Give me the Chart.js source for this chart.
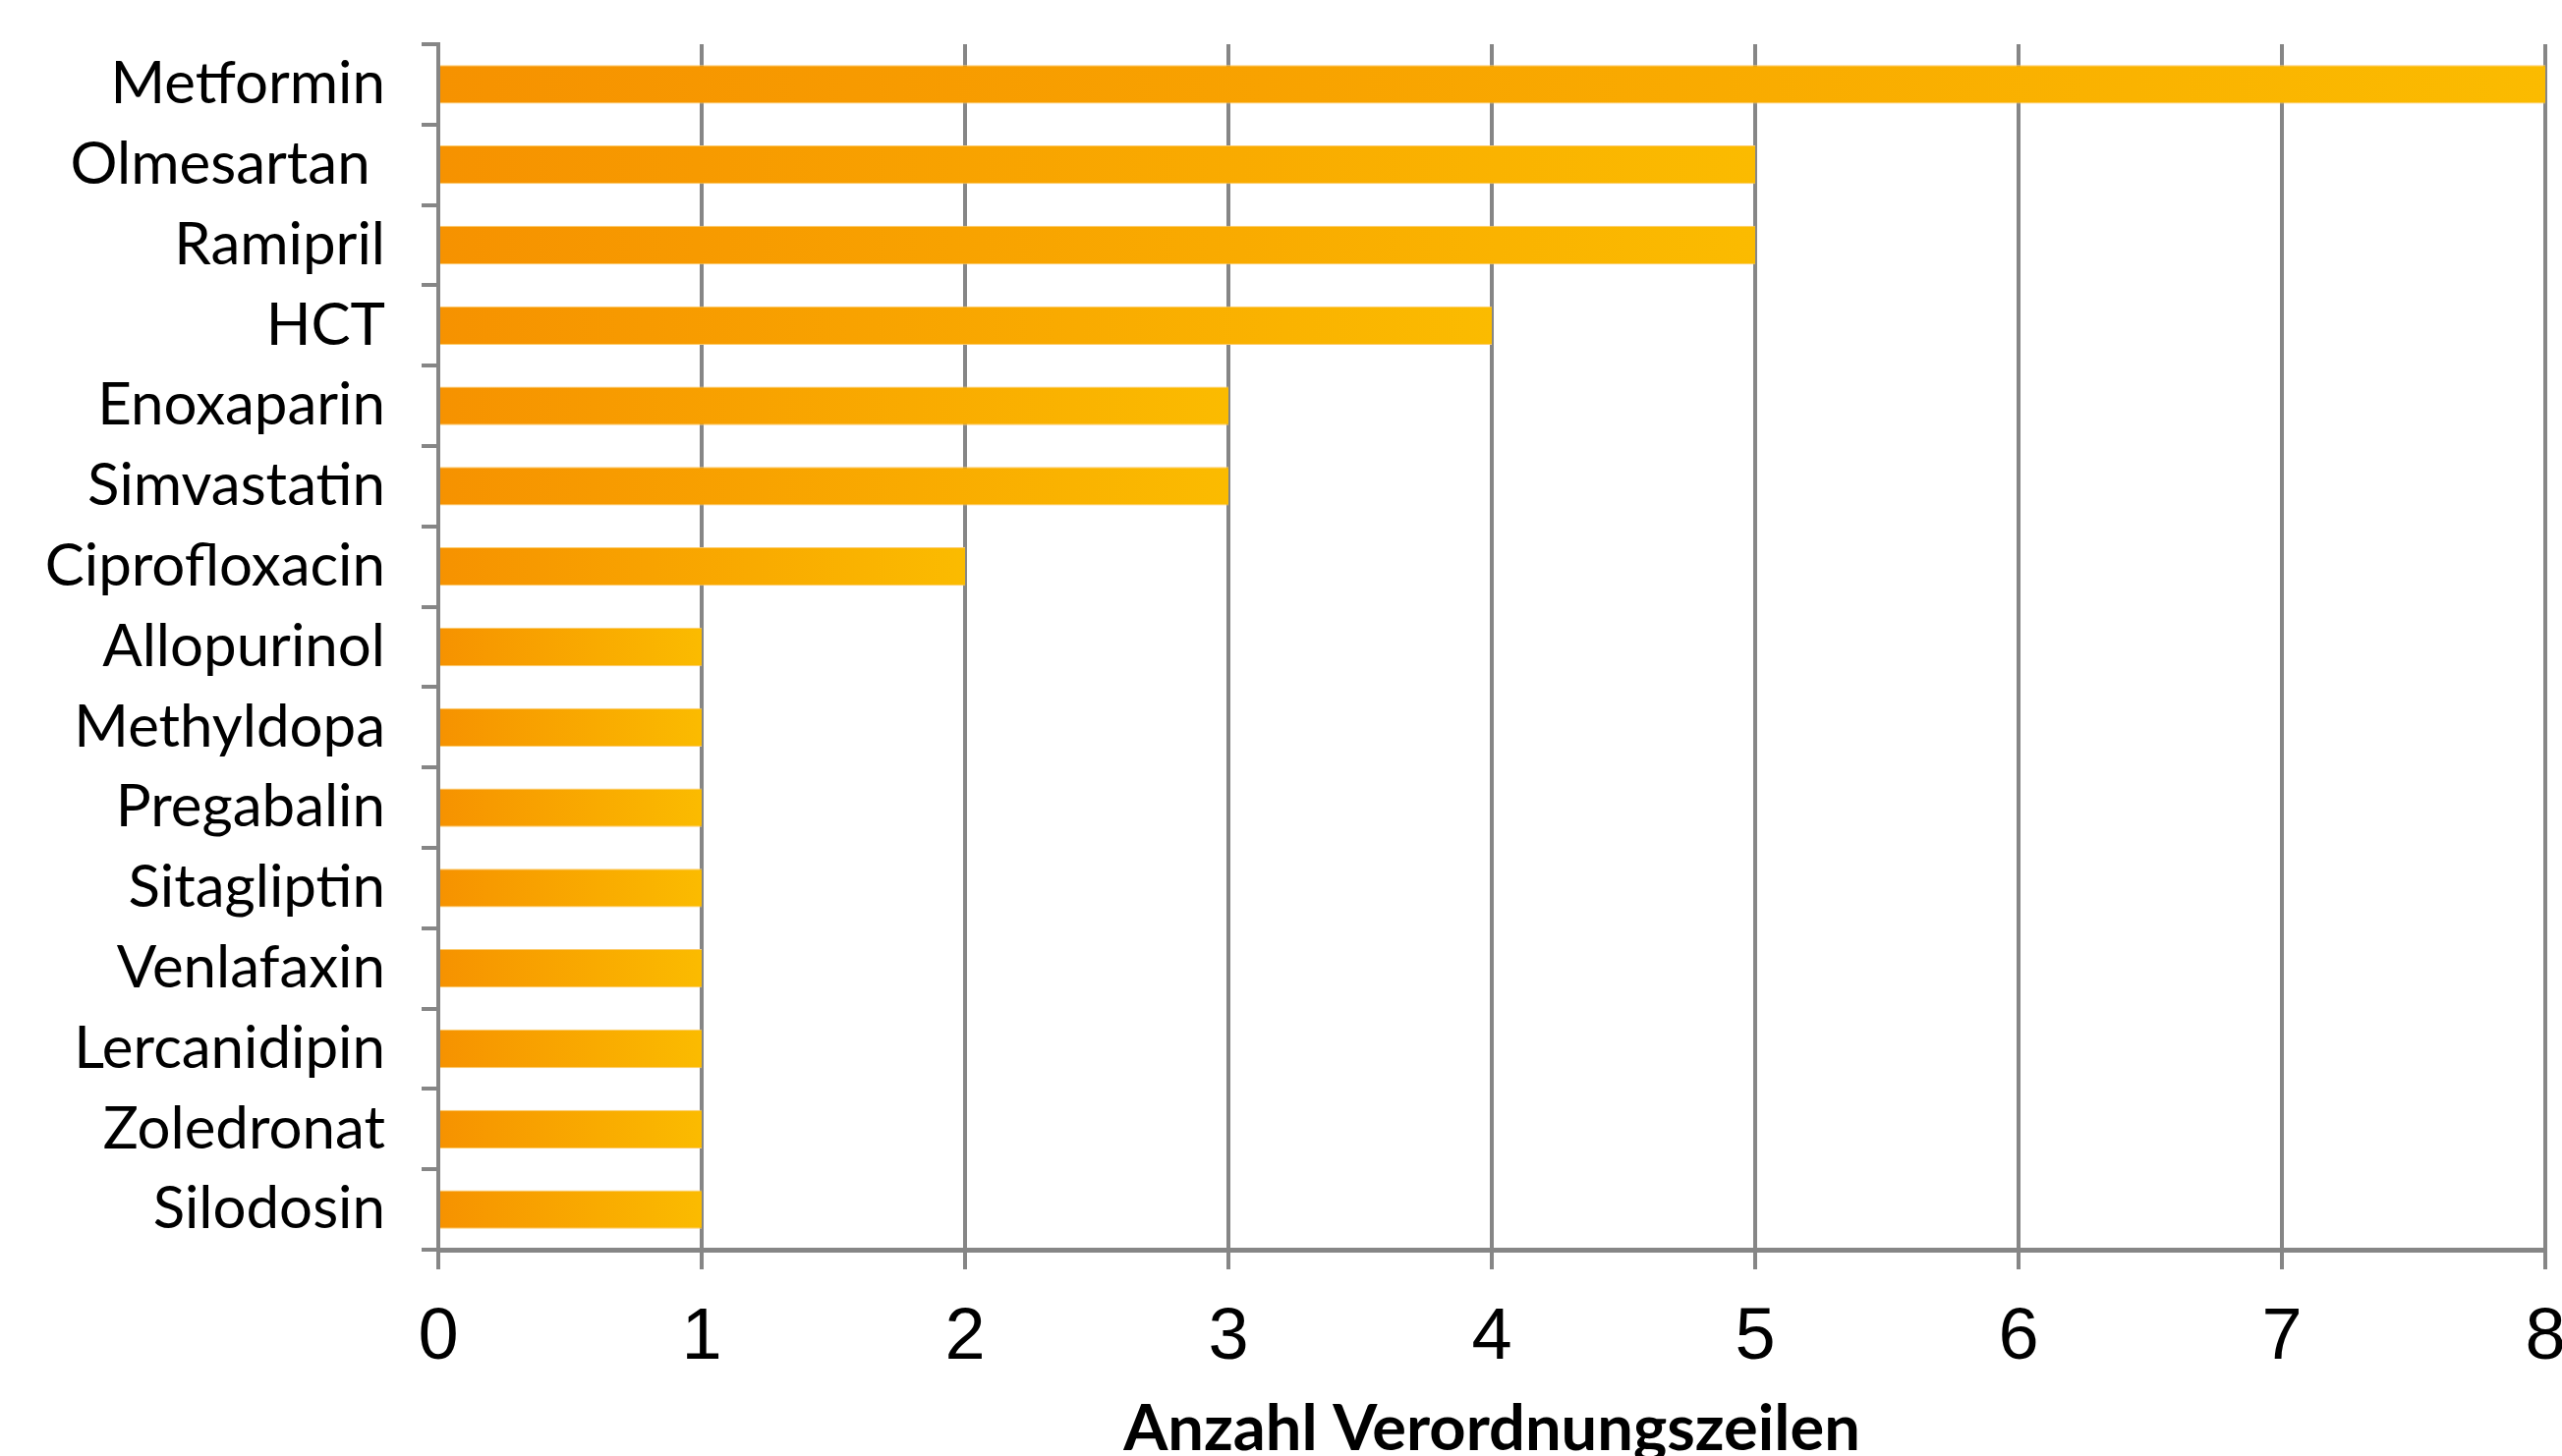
<!DOCTYPE html>
<html>
<head>
<meta charset="utf-8">
<script src="https://cdn.jsdelivr.net/npm/chart.js@4/dist/chart.umd.min.js"></script>
<style>
  html, body { margin: 0; padding: 0; background: #ffffff; overflow: hidden; }
  #wrap { position: relative; width: 2611px; height: 1520px; }
</style>
</head>
<body>
<div id="wrap"><canvas id="c"></canvas></div>
<script>
const categories = ["Metformin", "Olmesartan ", "Ramipril", "HCT", "Enoxaparin", "Simvastatin", "Ciprofloxacin", "Allopurinol", "Methyldopa", "Pregabalin", "Sitagliptin", "Venlafaxin", "Lercanidipin", "Zoledronat", "Silodosin"];
const values = [8, 5, 5, 4, 3, 3, 2, 1, 1, 1, 1, 1, 1, 1, 1];
const xTicks = [0, 1, 2, 3, 4, 5, 6, 7, 8];
const axisTitle = "Anzahl Verordnungszeilen";

const GRID = '#868686';

function barGradient(ctx) {
  const chart = ctx.chart;
  const area = chart.chartArea;
  if (!area || ctx.type !== 'data') return '#F79600';
  const xs = chart.scales.x;
  const x0 = xs.getPixelForValue(0);
  const x1 = xs.getPixelForValue(ctx.raw);
  if (!isFinite(x0) || !isFinite(x1) || x1 === x0) return '#F79600';
  const g = chart.ctx.createLinearGradient(x0, 0, x1, 0);
  g.addColorStop(0, '#F69200');
  g.addColorStop(1, '#FBBB00');
  return g;
}

new Chart(document.getElementById('c'), {
  type: 'bar',
  data: {
    labels: categories,
    datasets: [{
      data: values,
      backgroundColor: barGradient,
      borderColor: '#FCCB6A',
      borderWidth: { top: 1, bottom: 1, left: 0, right: 0 },
      borderSkipped: false,
      barPercentage: 0.8,
      categoryPercentage: 0.6
    }]
  },
  options: {
    indexAxis: 'y',
    responsive: true,
    maintainAspectRatio: false,
    animation: false,
    layout: { padding: { top: 45, left: 0, right: 21, bottom: 0 } },
    plugins: { legend: { display: false }, tooltip: { enabled: false } },
    scales: {
      x: {
        type: 'linear',
        min: 0,
        max: 8,
        afterBuildTicks: (s) => { s.ticks = xTicks.map(v => ({ value: v })); },
        afterFit: (s) => { s.height = 248; s.paddingLeft = 0; s.paddingRight = 0; },
        grid: { color: GRID, lineWidth: 4, tickLength: 20, drawTicks: true },
        border: { display: true, color: GRID, width: 5 },
        ticks: {
          color: '#000000',
          padding: 26,
          font: { family: '"Liberation Sans", Arial, sans-serif', size: 74 }
        },
        title: {
          display: true,
          text: axisTitle,
          color: '#000000',
          padding: { top: 0, bottom: 26 },
          font: { family: 'Lato, "Open Sans", sans-serif', size: 65, weight: 'bold' }
        }
      },
      y: {
        type: 'category',
        offset: true,
        afterFit: (s) => { s.width = 446; s.paddingTop = 0; s.paddingBottom = 0; },
        grid: { display: true, drawOnChartArea: false, offset: true, color: GRID, lineWidth: 4, tickLength: 17 },
        border: { display: true, color: GRID, width: 4 },
        ticks: {
          color: '#000000',
          padding: 37,
          font: { family: 'Lato, "Open Sans", sans-serif', size: 60 }
        }
      }
    }
  }
});
</script>
</body>
</html>
